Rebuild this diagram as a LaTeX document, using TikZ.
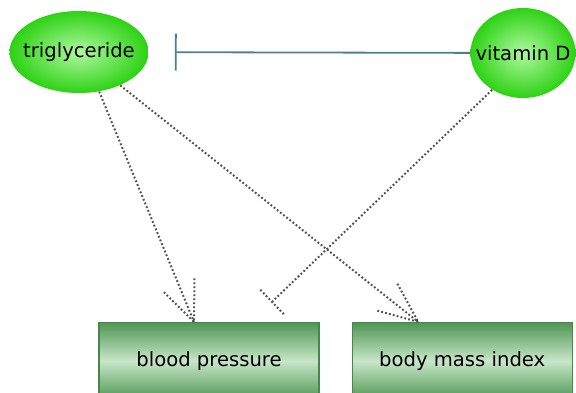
\documentclass[tikz,border=0pt]{standalone}
\usepackage{xcolor}
\usepackage{fontspec}
\setmainfont{DejaVu Sans}
\usepackage{tikz}
\usetikzlibrary{positioning,shapes,arrows.meta,decorations.markings}

\definecolor{blobgreen}{RGB}{45,210,20}
\definecolor{blobcore}{RGB}{175,248,160}
\definecolor{boxdark}{RGB}{80,150,85}
\definecolor{boxlight}{RGB}{200,230,200}
\definecolor{inhibteal}{RGB}{75,130,135}
\definecolor{dotgray}{RGB}{80,80,80}

\begin{document}
\begin{tikzpicture}[x=0.5pt, y=-0.5pt, >=Stealth,
    factor/.style={ellipse, inner ysep=0pt, shading=radial,
        inner color=blobcore, outer color=blobgreen,
        font=\fontsize{9.8}{12}\selectfont},
    outcome/.style={rectangle, draw=boxdark!90!black, line width=0.6pt,
        minimum width=110pt, minimum height=38.5pt,
        top color=boxdark, bottom color=boxdark, middle color=boxlight,
        font=\fontsize{9.8}{12}\selectfont},
    dotline/.style={draw=dotgray, line width=1pt, dash pattern=on 0.9pt off 1.1pt},
    dothead/.style={dotline, postaction={decorate}, decoration={markings,
        mark=at position 1 with {\draw[dotline] (-20pt,8.5pt) -- (0,0) -- (-20pt,-8.5pt);}}},
    dotbar/.style={dotline, postaction={decorate}, decoration={markings,
        mark=at position 1 with {\draw[dotline] (0,8.5pt) -- (0,-8.5pt);}}},
    inhib/.style={draw=inhibteal, line width=0.9pt, -{Bar[width=18.5pt]}}]

    \useasboundingbox (0,0) rectangle (576,392);

    \node[factor, inner xsep=-3.3pt, minimum height=41pt] (trig) at (79,52) {triglyceride};
    \node[factor, inner xsep=-5.2pt, minimum height=45pt] (vitd) at (523,53) {vitamin D};
    \node[outcome] (bp) at (209,361) {blood pressure};
    \node[outcome, right=16pt of bp] (bmi) {body mass index};

    \draw[inhib, shorten >=13pt] (vitd) -- (trig);
    \draw[dothead] (trig.-63) -- ([xshift=-7.5pt]bp.north);
    \draw[dothead] (trig.-39) -- ([xshift=-22pt]bmi.north);
    \draw[dotbar] (vitd.-130) -- ([xshift=31.5pt,yshift=10pt]bp.north);
\end{tikzpicture}
\end{document}
